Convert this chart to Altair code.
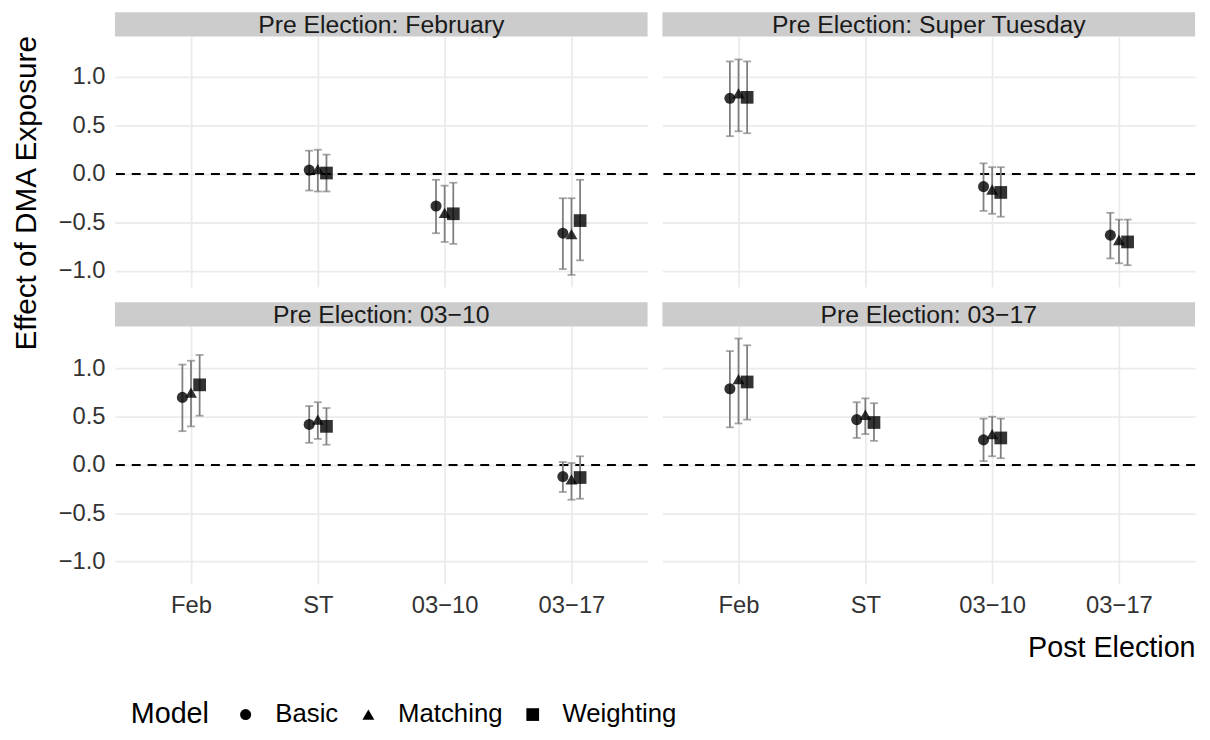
import json
import altair as alt
import pandas as pd

FONT = "Liberation Sans"

# ---------------- data ----------------
panels = ["Pre Election: February", "Pre Election: Super Tuesday",
          "Pre Election: 03\u221210", "Pre Election: 03\u221217"]
post_levels = ["Feb", "ST", "03\u221210", "03\u221217"]
models = ["Basic", "Matching", "Weighting"]

# post-election periods shown in each panel (3 each, in order)
panel_posts = [
    ["ST", "03\u221210", "03\u221217"],
    ["Feb", "03\u221210", "03\u221217"],
    ["Feb", "ST", "03\u221217"],
    ["Feb", "ST", "03\u221210"],
]
# per panel: [post1: B, M, W, post2: B, M, W, post3: B, M, W]
estimate = [
    [0.04, 0.05, 0.01, -0.33, -0.40, -0.41, -0.61, -0.62, -0.48],
    [0.78, 0.83, 0.79, -0.13, -0.16, -0.19, -0.63, -0.68, -0.70],
    [0.70, 0.75, 0.83, 0.42, 0.47, 0.40, -0.12, -0.15, -0.13],
    [0.79, 0.89, 0.86, 0.47, 0.52, 0.44, 0.26, 0.32, 0.28],
]
lower = [
    [-0.17, -0.18, -0.18, -0.61, -0.70, -0.72, -0.98, -1.04, -0.89],
    [0.39, 0.44, 0.42, -0.38, -0.41, -0.44, -0.87, -0.92, -0.94],
    [0.35, 0.40, 0.51, 0.23, 0.27, 0.21, -0.28, -0.36, -0.35],
    [0.39, 0.43, 0.47, 0.28, 0.32, 0.25, 0.04, 0.09, 0.07],
]
upper = [
    [0.24, 0.25, 0.20, -0.06, -0.12, -0.09, -0.25, -0.25, -0.06],
    [1.16, 1.18, 1.16, 0.11, 0.07, 0.07, -0.40, -0.47, -0.47],
    [1.04, 1.08, 1.14, 0.61, 0.65, 0.59, 0.03, 0.02, 0.09],
    [1.18, 1.31, 1.24, 0.65, 0.69, 0.64, 0.48, 0.50, 0.48],
]
y_ticks = [-1.0, -0.5, 0.0, 0.5, 1.0]

# ---------------- build table ----------------
DODGE = {"Basic": -0.068, "Matching": 0.0, "Weighting": 0.068}
rows = []
for p, name in enumerate(panels):
    k = 0
    for post in panel_posts[p]:
        for m in models:
            rows.append({
                "panel": name, "post": post, "model": m,
                "pos": post_levels.index(post) + 1 + DODGE[m],
                "est": estimate[p][k], "lo": lower[p][k], "hi": upper[p][k],
            })
            k += 1
df = pd.DataFrame(rows)

W = 538
label_expr = json.dumps(post_levels) + "[datum.value - 1]"
GRID = "#EBEBEB"
TXT = "#333333"

legend = alt.Legend(
    title="Model", orient="none", legendX=16, legendY=672,
    direction="horizontal", titleOrient="left",
    titleFont=FONT, titleFontSize=29, titleFontWeight="normal", titleColor="black",
    titleBaseline="middle", titlePadding=24,
    labelFont=FONT, labelFontSize=26, labelColor="black", labelOffset=17,
    columnPadding=17, symbolFillColor="#4D4D4D",
    symbolStrokeWidth=0, symbolOpacity=1,
)
shape_scale = alt.Scale(domain=models, range=["circle", "triangle-up", "square"])
size_scale = alt.Scale(domain=models, range=[125, 165, 115])


def panel(i, height, ydom, left, bottom, right):
    name = panels[i]
    d = df[df.panel == name]
    xs = alt.Scale(domain=[0.4, 4.6], nice=False, zero=False)
    ys = alt.Scale(domain=ydom, nice=False, zero=False)
    xaxis_kw = dict(values=[1, 2, 3, 4], labelExpr=label_expr, grid=True,
                    gridColor=GRID, gridWidth=1.8, domain=False, ticks=False,
                    tickSize=0, labels=bottom, labelFont=FONT, labelFontSize=24,
                    labelColor=TXT, labelPadding=10, title=None)
    if bottom and right:
        xaxis_kw.update(title="Post Election", titleFont=FONT, titleFontSize=29,
                        titleFontWeight="normal", titleColor="black",
                        titleX=W, titleY=73, titleAlign="right",
                        titleBaseline="alphabetic")
    xaxis = alt.Axis(**xaxis_kw)
    yaxis_kw = dict(values=y_ticks, format=".1f", grid=True, gridColor=GRID,
                    gridWidth=1.8, domain=False, ticks=False, tickSize=0,
                    labels=left, labelFont=FONT, labelFontSize=24,
                    labelColor=TXT, labelPadding=10, title=None)
    if left and i == 0:
        yaxis_kw.update(title="Effect of DMA Exposure", titleFont=FONT,
                        titleFontSize=30, titleFontWeight="normal",
                        titleColor="black", titleAngle=270, titleX=-80,
                        titleY=158, titleAlign="center", titleBaseline="alphabetic")
    yaxis = alt.Axis(**yaxis_kw)

    base = alt.Chart(d)
    zero = alt.Chart(pd.DataFrame({"est": [0.0]})).mark_rule(
        color="black", strokeDash=[9, 7], strokeWidth=2.2
    ).encode(y=alt.Y("est:Q", scale=ys, axis=yaxis))
    bars = base.mark_rule(color="#7F7F7F", strokeWidth=1.8).encode(
        x=alt.X("pos:Q", scale=xs, axis=xaxis),
        y=alt.Y("lo:Q", scale=ys, axis=yaxis), y2="hi:Q")
    cap_lo = base.mark_tick(color="#7F7F7F", orient="horizontal", size=8,
                            thickness=1.8).encode(
        x=alt.X("pos:Q", scale=xs, axis=xaxis), y=alt.Y("lo:Q", scale=ys, axis=yaxis))
    cap_hi = base.mark_tick(color="#7F7F7F", orient="horizontal", size=8,
                            thickness=1.8).encode(
        x=alt.X("pos:Q", scale=xs, axis=xaxis), y=alt.Y("hi:Q", scale=ys, axis=yaxis))
    pts = base.mark_point(filled=True, opacity=0.8, color="black",
                          strokeWidth=0).encode(
        x=alt.X("pos:Q", scale=xs, axis=xaxis),
        y=alt.Y("est:Q", scale=ys, axis=yaxis),
        shape=alt.Shape("model:N", scale=shape_scale, legend=legend),
        size=alt.Size("model:N", scale=size_scale, legend=legend))
    sdf = pd.DataFrame({"label": [name]})
    strip = alt.Chart(sdf).mark_rect(color="#CCCCCC").encode(
        x=alt.value(0), x2=alt.value(W), y=alt.value(-24.5), y2=alt.value(0))
    stext = alt.Chart(sdf).mark_text(font=FONT, fontSize=25, color="#1A1A1A",
                                     baseline="alphabetic").encode(
        x=alt.value(W / 2), y=alt.value(-3), text="label:N")
    return alt.layer(zero, bars, cap_lo, cap_hi, pts, strip, stext).properties(
        width=W, height=height)


chart = alt.concat(
    panel(0, 253, [-1.163, 1.418], True, False, False),
    panel(1, 253, [-1.163, 1.418], False, False, True),
    panel(2, 260, [-1.232, 1.435], True, True, False),
    panel(3, 260, [-1.232, 1.435], False, True, True),
    columns=2, spacing={"row": 40, "column": 15}, bounds="flush",
).properties(
    padding={"left": 3, "top": 0, "right": 5, "bottom": 5}
).configure(background="white").configure_view(
    stroke=None, strokeWidth=0, strokeOpacity=0)

chart.save("out.html", embed_options={"renderer": "svg", "actions": False})
